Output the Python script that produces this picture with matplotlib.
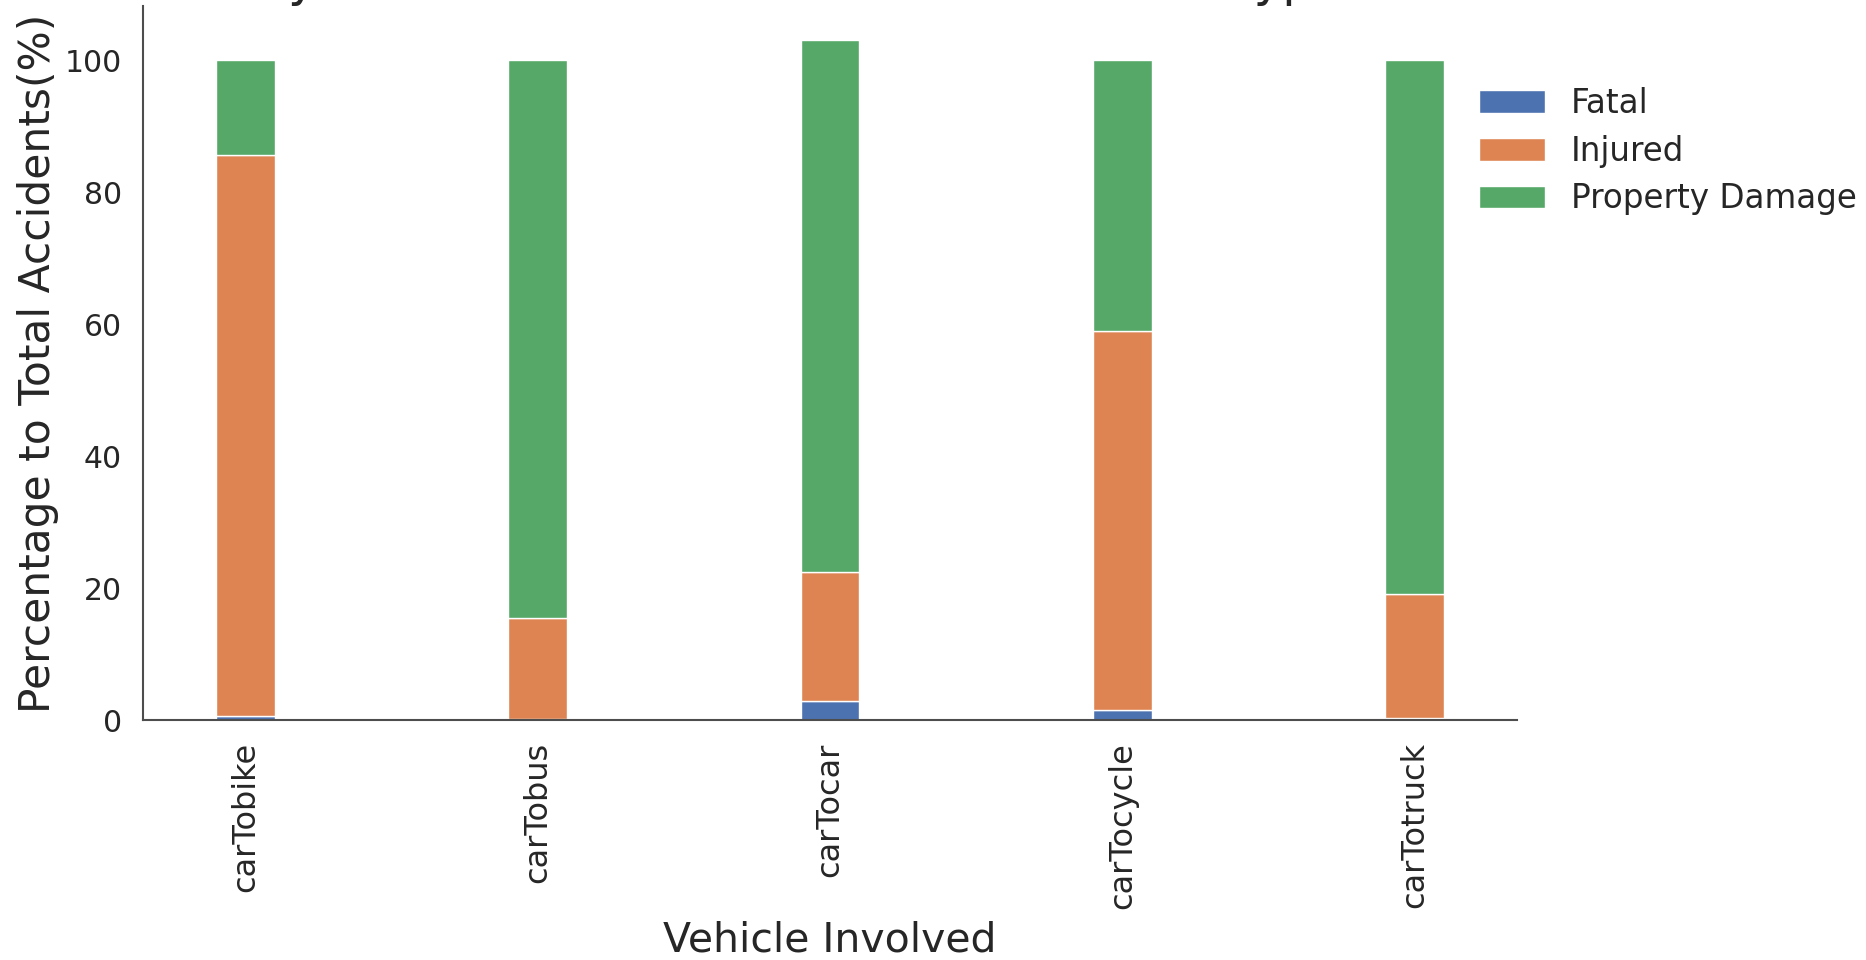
import matplotlib
matplotlib.use('Agg')
import matplotlib.pyplot as plt
import seaborn as sns
import pandas as pd

vehicles = ['carTobike', 'carTobus', 'carTocar', 'carTocycle', 'carTotruck']
fatal = [0.6, 0.2, 2.9, 1.5, 0.3]
injured = [85.0, 15.3, 19.5, 57.4, 18.8]
property_damage = [14.4, 84.5, 80.7, 41.1, 80.9]

title = 'Severity of Accidents in Collision with Vehicle Type'

sns.set_style('white')
colors = sns.color_palette('deep')[:3]

df = pd.DataFrame({'Fatal': fatal, 'Injured': injured,
                   'Property Damage': property_damage}, index=vehicles)

fig = plt.figure(figsize=(18.66, 9.6), dpi=100)
ax = fig.add_axes([0.0766, 0.25, 0.7364, 0.744])
df.plot(kind='bar', stacked=True, width=0.2, color=colors, ax=ax,
        edgecolor='white', linewidth=1)

sns.despine(ax=ax)
for s in ['left', 'bottom']:
    ax.spines[s].set_color('.3')
    ax.spines[s].set_linewidth(1.5)

ax.tick_params(axis='y', labelsize=21.5, pad=15, colors='.15', length=0)
ax.tick_params(axis='x', labelsize=23, pad=16, colors='.15', length=0)
ax.set_xlabel('Vehicle Involved', fontsize=29.5, color='.15', labelpad=8)
ax.set_ylabel('Percentage to Total Accidents(%)', fontsize=30.5, color='.15')

ax.legend(loc='upper left', bbox_to_anchor=(0.777, 0.94),
          bbox_transform=fig.transFigure, frameon=False, fontsize=23.5,
          labelspacing=0.45, labelcolor='.15')

# title sits mostly above the visible area, only descenders show
fig.text(0.062, 1.004, title, fontsize=35, ha='left', va='baseline', color='.15')

plt.savefig('out.png', dpi=100)
